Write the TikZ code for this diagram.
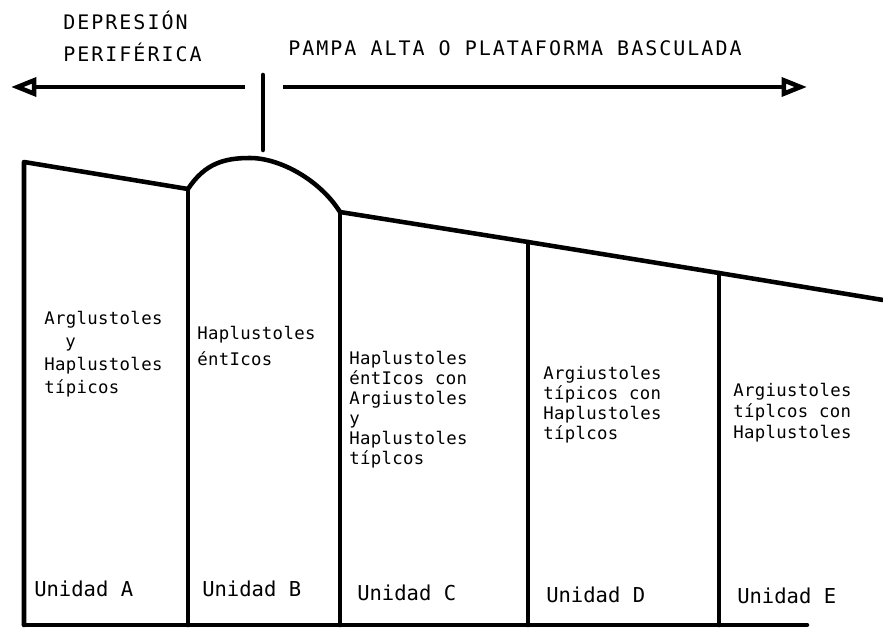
\documentclass[tikz,border=0pt]{standalone}
\usepackage{fontspec}
\newfontfamily\caduppr[LetterSpace=10]{DejaVu Sans Mono}
\newfontfamily\cadlowr[LetterSpace=2]{DejaVu Sans Mono}
\newfontfamily\cadunit{DejaVu Sans Mono}
\usetikzlibrary{arrows.meta}
\begin{document}
\begin{tikzpicture}[x=0.75pt,y=-0.75pt,
  wall/.style={line width=3.4pt, line join=round, line cap=round},
  dirarrow/.style={line width=3.4pt, -{Triangle[open,length=19pt,width=14pt]}},
  headtxt/.style={inner sep=0pt, anchor=base west, font=\caduppr\fontsize{15}{18}\selectfont},
  soiltxt/.style={inner sep=0pt, anchor=north west, align=left},
  unittxt/.style={inner sep=0pt, anchor=base west, font=\cadunit\fontsize{15.4}{18}\selectfont}]
\useasboundingbox (0,0) rectangle (883,630);
% profile points
\coordinate (tl) at (24,162);
\coordinate (b1) at (188,189);
\coordinate (pk) at (250,158);
\coordinate (b2) at (340,212);
\coordinate (b3) at (528,242);
\coordinate (b4) at (719,273);
\coordinate (tr) at (883,300);
\coordinate (f0) at (24,625);
\coordinate (f1) at (188,625);
\coordinate (f2) at (340,625);
\coordinate (f3) at (528,625);
\coordinate (f4) at (719,625);
\coordinate (f5) at (807,625);
% arrows
\coordinate (la) at (245,87);
\coordinate (lt) at (11,87);
\coordinate (ra) at (283,87);
\coordinate (rt) at (807,87);
\coordinate (tk1) at (263,75);
\coordinate (tk2) at (263,150);
\draw[dirarrow] (la) -- (lt);
\draw[dirarrow] (ra) -- (rt);
\draw[wall] (tk1) -- (tk2);
% profile
\draw[wall] (f0) -- (tl) -- (b1) .. controls (205,163) and (225,158) .. (pk)
  .. controls (280,158) and (320,180) .. (b2) -- (b3) -- (b4) -- (tr);
\draw[wall] (b1) -- (f1);
\draw[wall] (b2) -- (f2);
\draw[wall] (b3) -- (f3);
\draw[wall] (b4) -- (f4);
\draw[wall] (f0) -- (f5);
% header texts
\node[headtxt] (dep1) at (63,30) {DEPRESIÓN};
\node[headtxt] (dep2) at (63,62) {PERIFÉRICA};
\node[headtxt] (pampa) at (288,56) {PAMPA ALTA O PLATAFORMA BASCULADA};
% soil texts
\node[soiltxt, font=\cadlowr\fontsize{13}{17.25}\selectfont] (sa) at (44,311) {Arglustoles\\\phantom{Ar}y\\Haplustoles\\típicos};
\node[soiltxt, font=\cadlowr\fontsize{13}{19.5}\selectfont] (sb) at (197,326) {Haplustoles\\éntIcos};
\node[soiltxt, font=\cadlowr\fontsize{13}{15}\selectfont] (sc) at (349,351) {Haplustoles\\éntIcos con\\Argiustoles\\y\\Haplustoles\\típlcos};
\node[soiltxt, font=\cadlowr\fontsize{13}{15}\selectfont] (sd) at (543,366) {Argiustoles\\típicos con\\Haplustoles\\típlcos};
\node[soiltxt, font=\cadlowr\fontsize{13}{15.75}\selectfont] (se) at (733,383) {Argiustoles\\típlcos con\\Haplustoles};
% unit labels
\node[unittxt] (ua) at (34,597) {Unidad A};
\node[unittxt] (ub) at (202,597) {Unidad B};
\node[unittxt] (uc) at (357,601) {Unidad C};
\node[unittxt] (ud) at (546,603) {Unidad D};
\node[unittxt] (ue) at (737,604) {Unidad E};
\end{tikzpicture}
\end{document}
